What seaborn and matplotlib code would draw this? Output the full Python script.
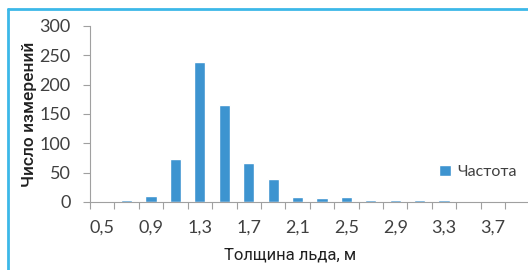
import matplotlib
matplotlib.use('Agg')
import matplotlib.pyplot as plt
import seaborn as sns
import pandas as pd
from matplotlib.lines import Line2D
from matplotlib.ticker import FixedLocator

# Data
thickness = ['0,5', '0,7', '0,9', '1,1', '1,3', '1,5', '1,7', '1,9', '2,1',
             '2,3', '2,5', '2,7', '2,9', '3,1', '3,3', '3,5', '3,7', '3,9']
frequency = [0, 3, 10, 74, 238, 166, 66, 40, 8, 7, 9, 3, 3, 3, 3, 0, 0, 0]
series_name = 'Частота'

df = pd.DataFrame({'thickness': thickness, 'frequency': frequency})

sns.set_style('white')
plt.rcParams['font.family'] = ['Lato', 'DejaVu Sans']

fig = plt.figure(figsize=(5.28, 2.70), dpi=100)
ax = fig.add_axes([90 / 528, 68 / 270, 439.5 / 528, 176 / 270])

sns.barplot(data=df, x='thickness', y='frequency', color='#3d94d0', width=0.46,
            saturation=1, label=series_name, ax=ax)

ax.set_xlim(-0.5, len(thickness) - 0.5)
ax.set_ylim(0, 300)
ax.set_yticks(range(0, 301, 50))
ax.set_xticks(range(len(thickness)))
ax.set_xticklabels([t if i % 2 == 0 else '' for i, t in enumerate(thickness)])
ax.xaxis.set_minor_locator(FixedLocator([i - 0.5 for i in range(len(thickness) + 1)]))
ax.tick_params(axis='x', which='major', length=0, pad=13, labelsize=13, colors='#404040')
ax.tick_params(axis='x', which='minor', length=5, width=0.8, color='#a0a0a0', bottom=True)
ax.tick_params(axis='y', length=5, width=0.8, color='#a0a0a0', left=True, pad=9,
               labelsize=13, labelcolor='#404040')

for side in ['top', 'right']:
    ax.spines[side].set_visible(False)
for side in ['left', 'bottom']:
    ax.spines[side].set_color('#a0a0a0')
    ax.spines[side].set_linewidth(0.8)

label_font = ['Roboto', 'DejaVu Sans']
ax.set_xlabel('Толщина льда, м', fontsize=12, family=label_font, color='#202020')
ax.set_ylabel('Число измерений', fontsize=12.5, family=label_font, color='#202020',
              fontweight='medium')
ax.xaxis.set_label_coords(200 / 439.5, -46 / 176)
ax.yaxis.set_label_coords(-53 / 439.5, 0.5)

leg = ax.legend(loc='center left', bbox_to_anchor=(425 / 528, 98 / 270),
                bbox_transform=fig.transFigure, frameon=False, fontsize=11.5,
                handlelength=0.75, handleheight=0.75, handletextpad=0.35,
                labelcolor='#404040')

# light blue frame fragment (top and left edges)
fig.add_artist(Line2D([8 / 528, 1.0], [1 - 9 / 270, 1 - 9 / 270], color='#3cb8e8', lw=2))
fig.add_artist(Line2D([8 / 528, 8 / 528], [0.0, 1 - 9 / 270], color='#3cb8e8', lw=2))

fig.savefig('out.png', dpi=100)
